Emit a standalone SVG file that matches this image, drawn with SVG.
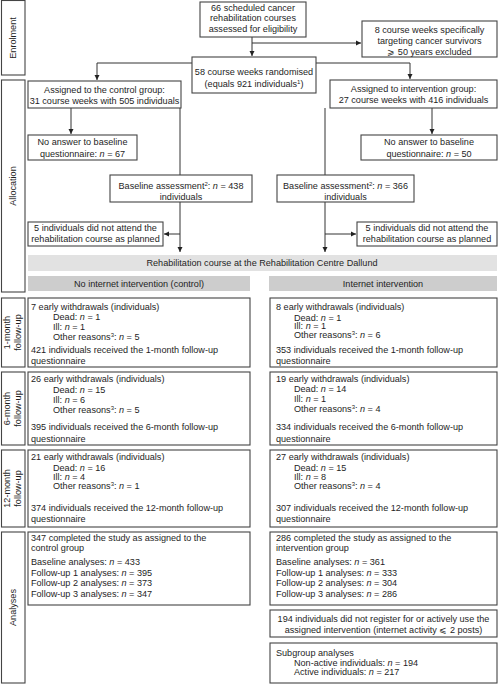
<svg xmlns="http://www.w3.org/2000/svg" width="499" height="685" viewBox="0 0 499 685">
<defs>
<style>
text{font-family:"Liberation Sans",Arial,sans-serif;font-size:9.1px;fill:#1e1e1e}
.c{text-anchor:middle}
.box{fill:#fff;stroke:#444;stroke-width:1.1}
.side{fill:#fff;stroke:#444;stroke-width:1.1}
.ln{fill:none;stroke:#333;stroke-width:1}
.i{font-style:italic}
.sup{font-size:6px}
</style>
<marker id="ah" markerWidth="6" markerHeight="6" refX="5" refY="3" orient="auto" markerUnits="userSpaceOnUse">
<path d="M0,0.5 L5,3 L0,5.5 Z" fill="#222"/>
</marker>
</defs>
<rect width="499" height="685" fill="#fff"/>

<g id="side-labels">
<g id="lbl-enrolment"><rect class="side" x="1.5" y="0.5" width="23.5" height="74.5"/><text class="c" transform="translate(12.5,38) rotate(-90)" y="3.2">Enrolment</text></g>
<g id="lbl-allocation"><rect class="side" x="1.5" y="80" width="23.5" height="212"/><text class="c" transform="translate(12.5,186) rotate(-90)" y="3.2">Allocation</text></g>
<g id="lbl-1month"><rect class="side" x="1.5" y="298" width="23.5" height="69"/><text class="c" transform="translate(13,332.5) rotate(-90)"><tspan x="0" y="-2.6">1-month</tspan><tspan x="0" y="8.4">follow-up</tspan></text></g>
<g id="lbl-6month"><rect class="side" x="1.5" y="372" width="23.5" height="73"/><text class="c" transform="translate(13,408.5) rotate(-90)"><tspan x="0" y="-2.6">6-month</tspan><tspan x="0" y="8.4">follow-up</tspan></text></g>
<g id="lbl-12month"><rect class="side" x="1.5" y="450" width="23.5" height="77"/><text class="c" transform="translate(13,488.5) rotate(-90)"><tspan x="0" y="-2.6">12-month</tspan><tspan x="0" y="8.4">follow-up</tspan></text></g>
<g id="lbl-analyses"><rect class="side" x="1.5" y="532" width="23.5" height="151"/><text class="c" transform="translate(12.5,607.5) rotate(-90)" y="3.2">Analyses</text></g>
</g>

<g id="connectors">
<path class="ln" d="M252,37 V56" marker-end="url(#ah)"/>
<path class="ln" d="M252,43 H361" marker-end="url(#ah)"/>
<path class="ln" d="M192,63 H97 V80" marker-end="url(#ah)"/>
<path class="ln" d="M316,63 H410 V79" marker-end="url(#ah)"/>
<path class="ln" d="M71,108 V134" marker-end="url(#ah)"/>
<path class="ln" d="M180,108 V175"/>
<path class="ln" d="M432,108 V134" marker-end="url(#ah)"/>
<path class="ln" d="M325,108 V175"/>
<path class="ln" d="M180,202 V252" marker-end="url(#ah)"/>
<path class="ln" d="M180,234 H164" marker-end="url(#ah)"/>
<path class="ln" d="M325,202 V252" marker-end="url(#ah)"/>
<path class="ln" d="M325,234 H356" marker-end="url(#ah)"/>
</g>

<g id="n-eligible"><rect class="box" x="200" y="2" width="106" height="35"/>
<text class="c" x="253" y="10.5">66 scheduled cancer</text>
<text class="c" x="253" y="21">rehabilitation courses</text>
<text class="c" x="253" y="31.5">assessed for eligibility</text></g>

<g id="n-excluded"><rect class="box" x="362" y="21" width="135" height="36"/>
<text class="c" x="429.5" y="32.5">8 course weeks specifically</text>
<text class="c" x="429.5" y="43.5">targeting cancer survivors</text>
<text class="c" x="429.5" y="54.5">⩾ 50 years excluded</text></g>

<g id="n-randomised"><rect class="box" x="192" y="57" width="124" height="36"/>
<text class="c" x="254" y="74.5">58 course weeks randomised</text>
<text class="c" x="254" y="86.5">(equals 921 individuals<tspan class="sup" dy="-3">1</tspan><tspan dy="3">)</tspan></text></g>

<g id="n-control"><rect class="box" x="28" y="81" width="153" height="27"/>
<text class="c" x="104.5" y="93">Assigned to the control group:</text>
<text class="c" x="104.5" y="103.5">31 course weeks with 505 individuals</text></g>

<g id="n-intervention"><rect class="box" x="330" y="80" width="167" height="28"/>
<text class="c" x="413.5" y="92">Assigned to intervention group:</text>
<text class="c" x="413.5" y="103">27 course weeks with 416 individuals</text></g>

<g id="n-noanswer-c"><rect class="box" x="28" y="135" width="109" height="25"/>
<text class="c" x="82.5" y="145">No answer to baseline</text>
<text class="c" x="82.5" y="156.5">questionnaire: <tspan class="i">n</tspan> = 67</text></g>

<g id="n-noanswer-i"><rect class="box" x="361" y="135" width="136" height="25"/>
<text class="c" x="429" y="145">No answer to baseline</text>
<text class="c" x="429" y="156.5">questionnaire: <tspan class="i">n</tspan> = 50</text></g>

<g id="n-baseline-c"><rect class="box" x="110" y="175" width="142" height="27"/>
<text class="c" x="181" y="188.5">Baseline assessment<tspan class="sup" dy="-3">2</tspan><tspan dy="3">: </tspan><tspan class="i">n</tspan> = 438</text>
<text class="c" x="181" y="199.5">individuals</text></g>

<g id="n-baseline-i"><rect class="box" x="277" y="175" width="137" height="27"/>
<text class="c" x="345.5" y="188.5">Baseline assessment<tspan class="sup" dy="-3">2</tspan><tspan dy="3">: </tspan><tspan class="i">n</tspan> = 366</text>
<text class="c" x="345.5" y="199.5">individuals</text></g>

<g id="n-notattend-c"><rect class="box" x="28" y="222" width="135" height="24"/>
<text class="c" x="95.5" y="231">5 individuals did not attend the</text>
<text class="c" x="95.5" y="242">rehabilitation course as planned</text></g>

<g id="n-notattend-i"><rect class="box" x="357" y="222" width="140" height="24"/>
<text class="c" x="427" y="231">5 individuals did not attend the</text>
<text class="c" x="427" y="242">rehabilitation course as planned</text></g>

<g id="n-rehab"><rect x="28" y="255" width="469" height="16" fill="#e2e2e2"/>
<text class="c" x="262" y="266">Rehabilitation course at the Rehabilitation Centre Dallund</text></g>

<g id="n-bar-c"><rect x="28" y="276" width="222" height="15" fill="#cdcdcd"/>
<text class="c" x="139" y="287">No internet intervention (control)</text></g>

<g id="n-bar-i"><rect x="269" y="276" width="228" height="15" fill="#cdcdcd"/>
<text class="c" x="383" y="287">Internet intervention</text></g>

<g id="n-1m-c"><rect class="box" x="28" y="298" width="222" height="69"/>
<text x="31" y="310">7 early withdrawals (individuals)</text>
<text x="53" y="320">Dead: <tspan class="i">n</tspan> = 1</text>
<text x="53" y="330">Ill: <tspan class="i">n</tspan> = 1</text>
<text x="53" y="339.5">Other reasons<tspan class="sup" dy="-3">3</tspan><tspan dy="3">: </tspan><tspan class="i">n</tspan> = 5</text>
<text x="31" y="353">421 individuals received the 1-month follow-up</text>
<text x="31" y="364">questionnaire</text></g>

<g id="n-1m-i"><rect class="box" x="270" y="298" width="227" height="69"/>
<text x="276" y="310">8 early withdrawals (individuals)</text>
<text x="294" y="320.5">Dead: <tspan class="i">n</tspan> = 1</text>
<text x="294" y="329">Ill: <tspan class="i">n</tspan> = 1</text>
<text x="294" y="337.5">Other reasons<tspan class="sup" dy="-3">3</tspan><tspan dy="3">: </tspan><tspan class="i">n</tspan> = 6</text>
<text x="276" y="353">353 individuals received the 1-month follow-up</text>
<text x="276" y="364">questionnaire</text></g>

<g id="n-6m-c"><rect class="box" x="28" y="372" width="222" height="73"/>
<text x="31" y="381.5">26 early withdrawals (individuals)</text>
<text x="53" y="393">Dead: <tspan class="i">n</tspan> = 15</text>
<text x="53" y="403">Ill: <tspan class="i">n</tspan> = 6</text>
<text x="53" y="413">Other reasons<tspan class="sup" dy="-3">3</tspan><tspan dy="3">: </tspan><tspan class="i">n</tspan> = 5</text>
<text x="31" y="430">395 individuals received the 6-month follow-up</text>
<text x="31" y="441.5">questionnaire</text></g>

<g id="n-6m-i"><rect class="box" x="270" y="372" width="227" height="73"/>
<text x="276" y="381.5">19 early withdrawals (individuals)</text>
<text x="294" y="392">Dead: <tspan class="i">n</tspan> = 14</text>
<text x="294" y="401.5">Ill: <tspan class="i">n</tspan> = 1</text>
<text x="294" y="412">Other reasons<tspan class="sup" dy="-3">3</tspan><tspan dy="3">: </tspan><tspan class="i">n</tspan> = 4</text>
<text x="276" y="430">334 individuals received the 6-month follow-up</text>
<text x="276" y="441.5">questionnaire</text></g>

<g id="n-12m-c"><rect class="box" x="28" y="450" width="222" height="77"/>
<text x="31" y="460">21 early withdrawals (individuals)</text>
<text x="53" y="471">Dead: <tspan class="i">n</tspan> = 16</text>
<text x="53" y="480">Ill: <tspan class="i">n</tspan> = 4</text>
<text x="53" y="488.5">Other reasons<tspan class="sup" dy="-3">3</tspan><tspan dy="3">: </tspan><tspan class="i">n</tspan> = 1</text>
<text x="31" y="510.5">374 individuals received the 12-month follow-up</text>
<text x="31" y="521.5">questionnaire</text></g>

<g id="n-12m-i"><rect class="box" x="270" y="450" width="227" height="77"/>
<text x="276" y="460">27 early withdrawals (individuals)</text>
<text x="294" y="471">Dead: <tspan class="i">n</tspan> = 15</text>
<text x="294" y="479.5">Ill: <tspan class="i">n</tspan> = 8</text>
<text x="294" y="488.5">Other reasons<tspan class="sup" dy="-3">3</tspan><tspan dy="3">: </tspan><tspan class="i">n</tspan> = 4</text>
<text x="276" y="510.5">307 individuals received the 12-month follow-up</text>
<text x="276" y="521.5">questionnaire</text></g>

<g id="n-an-c"><rect class="box" x="28" y="532" width="222" height="73"/>
<text x="31" y="541">347 completed the study as assigned to the</text>
<text x="31" y="551">control group</text>
<text x="31" y="565">Baseline analyses: <tspan class="i">n</tspan> = 433</text>
<text x="31" y="575.5">Follow-up 1 analyses: <tspan class="i">n</tspan> = 395</text>
<text x="31" y="586">Follow-up 2 analyses: <tspan class="i">n</tspan> = 373</text>
<text x="31" y="596.5">Follow-up 3 analyses: <tspan class="i">n</tspan> = 347</text></g>

<g id="n-an-i"><rect class="box" x="270" y="532" width="227" height="73"/>
<text x="276" y="541">286 completed the study as assigned to the</text>
<text x="276" y="551">intervention group</text>
<text x="276" y="565">Baseline analyses: <tspan class="i">n</tspan> = 361</text>
<text x="276" y="575.5">Follow-up 1 analyses: <tspan class="i">n</tspan> = 333</text>
<text x="276" y="586">Follow-up 2 analyses: <tspan class="i">n</tspan> = 304</text>
<text x="276" y="596.5">Follow-up 3 analyses: <tspan class="i">n</tspan> = 286</text></g>

<g id="n-inactive"><rect class="box" x="270" y="610" width="227" height="27"/>
<text class="c" x="383.5" y="621.5">194 individuals did not register for or actively use the</text>
<text class="c" x="383.5" y="632.5">assigned intervention (internet activity ⩽ 2 posts)</text></g>

<g id="n-subgroup"><rect class="box" x="270" y="643" width="227" height="40"/>
<text x="276" y="655.5">Subgroup analyses</text>
<text x="294" y="665.5">Non-active individuals: <tspan class="i">n</tspan> = 194</text>
<text x="294" y="675">Active individuals: <tspan class="i">n</tspan> = 217</text></g>
</svg>
